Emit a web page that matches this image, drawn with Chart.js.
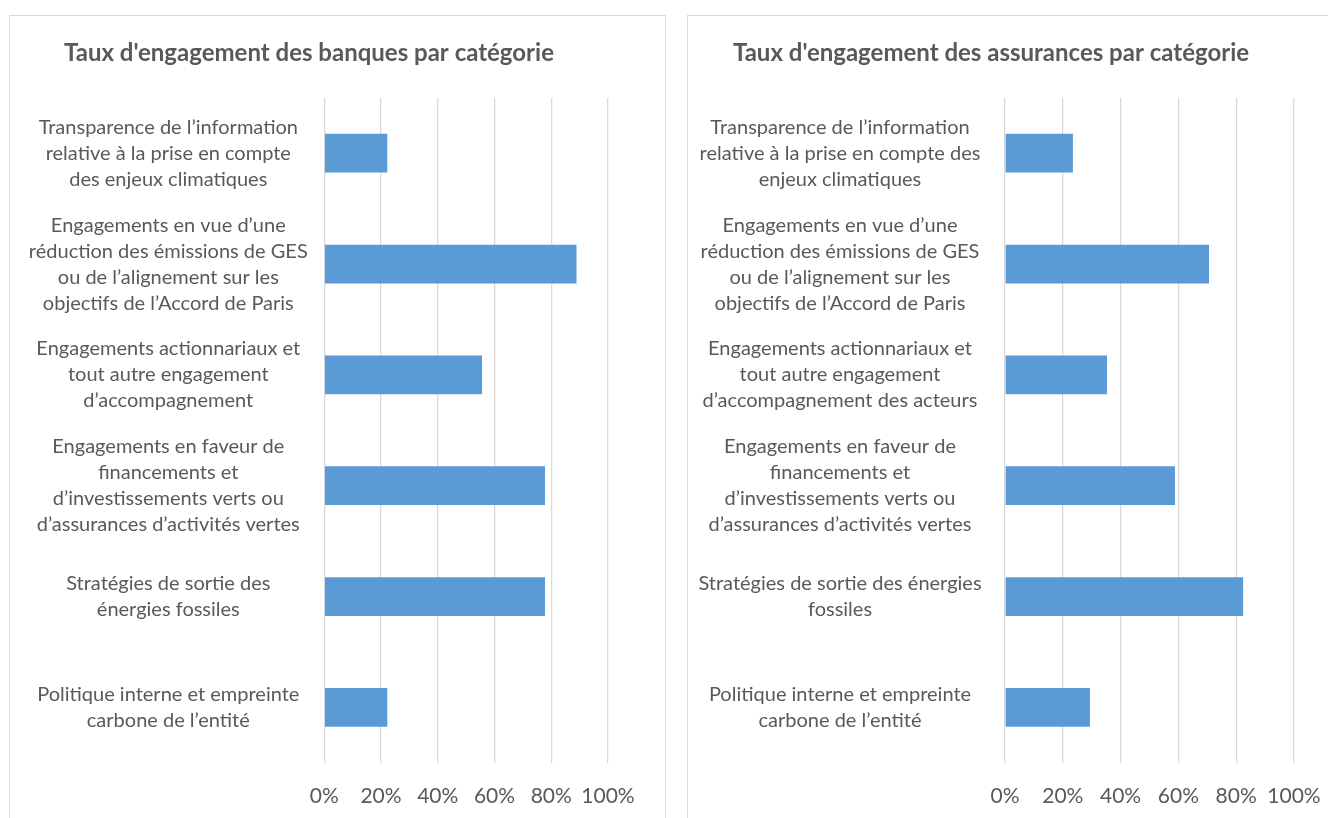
<!DOCTYPE html>
<html><head><meta charset="utf-8">
<script src="https://cdn.jsdelivr.net/npm/chart.js@4/dist/chart.umd.min.js"></script>
<style>
html,body{margin:0;padding:0;background:#fff;overflow:hidden;width:1328px;height:818px;}
.panel{position:absolute;border:1px solid #d9d9d9;box-sizing:border-box;}
canvas{position:absolute;}
</style></head><body>
<div class="panel" style="left:9px;top:15px;width:657px;height:830px"></div>
<div class="panel" style="left:687px;top:15px;width:664px;height:830px"></div>
<canvas id="c1" width="654" height="822" style="left:10px;top:16px"></canvas>
<canvas id="c2" width="660" height="822" style="left:688px;top:16px"></canvas>
<script>
const FONT = 'Lato';
const TEXT = '#595959';

const banksTitle = "Taux d'engagement des banques par catégorie";
const insurersTitle = "Taux d'engagement des assurances par catégorie";

const bankCategories = [
  ["Transparence de l’information", "relative à la prise en compte", "des enjeux climatiques"],
  ["Engagements en vue d’une", "réduction des émissions de GES", "ou de l’alignement sur les", "objectifs de l’Accord de Paris"],
  ["Engagements actionnariaux et", "tout autre engagement", "d’accompagnement"],
  ["Engagements en faveur de", "financements et", "d’investissements verts ou", "d’assurances d’activités vertes"],
  ["Stratégies de sortie des", "énergies fossiles"],
  ["Politique interne et empreinte", "carbone de l’entité"]
];
const insurerCategories = [
  ["Transparence de l’information", "relative à la prise en compte des", "enjeux climatiques"],
  ["Engagements en vue d’une", "réduction des émissions de GES", "ou de l’alignement sur les", "objectifs de l’Accord de Paris"],
  ["Engagements actionnariaux et", "tout autre engagement", "d’accompagnement des acteurs"],
  ["Engagements en faveur de", "financements et", "d’investissements verts ou", "d’assurances d’activités vertes"],
  ["Stratégies de sortie des énergies", "fossiles"],
  ["Politique interne et empreinte", "carbone de l’entité"]
];

const bankValues = [22.2, 88.9, 55.6, 77.8, 77.8, 22.2];
const insurerValues = [23.5, 70.6, 35.3, 58.8, 82.4, 29.4];

const xTickLabels = ['0%', '20%', '40%', '60%', '80%', '100%'];

const LABEL_SIZE = 20;

function widest(labels) {
  const c = document.createElement('canvas').getContext('2d');
  c.font = LABEL_SIZE + 'px ' + FONT;
  let w = 0;
  labels.forEach(l => l.forEach(s => { w = Math.max(w, c.measureText(s).width); }));
  return w;
}

function makeChart(id, title, labels, values, axisWidth, centerOffset, rightPad) {
  const pad = Math.max(0, centerOffset - widest(labels) / 2);
  return new Chart(document.getElementById(id), {
    type: 'bar',
    data: {
      labels: labels,
      datasets: [{
        data: values,
        backgroundColor: '#5B9BD5',
        borderWidth: 0,
        categoryPercentage: 0.7,
        barPercentage: 0.5
      }]
    },
    options: {
      indexAxis: 'y',
      responsive: false,
      animation: false,
      layout: { padding: { left: 0, right: rightPad, top: 0, bottom: 8 } },
      plugins: {
        legend: { display: false },
        tooltip: { enabled: false },
        title: {
          display: true, text: title, color: TEXT,
          font: { family: FONT, size: 24, weight: 'bold', lineHeight: 1.2 },
          padding: { top: 23, bottom: 30 }
        }
      },
      scales: {
        x: {
          min: 0, max: 100,
          ticks: {
            stepSize: 20, color: TEXT, padding: 21,
            maxRotation: 0, minRotation: 0, autoSkip: false,
            font: { family: FONT, size: 21 },
            callback: (v, i) => xTickLabels[i]
          },
          grid: { color: '#d9d9d9', lineWidth: 1.3, drawTicks: false },
          border: { display: false }
        },
        y: {
          grid: { display: false },
          border: { display: false },
          ticks: {
            crossAlign: 'center', padding: pad, color: TEXT, autoSkip: false,
            font: { family: FONT, size: LABEL_SIZE, lineHeight: 26 / LABEL_SIZE }
          },
          afterFit(s) {
            s.width = axisWidth; s.paddingTop = 0; s.paddingBottom = 0;
            s.getPadding = () => ({ left: 0, top: 0, right: 0, bottom: 0 });
          }
        }
      }
    }
  });
}

makeChart('c1', banksTitle, bankCategories, bankValues, 314.3, 148, 56);
makeChart('c2', insurersTitle, insurerCategories, insurerValues, 317, 157, 54);
</script>
</body></html>
